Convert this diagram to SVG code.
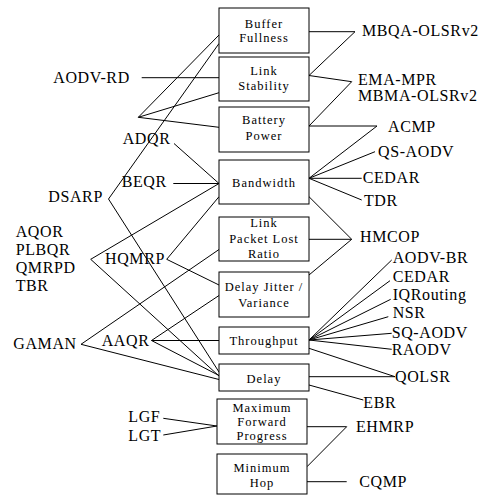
<svg xmlns="http://www.w3.org/2000/svg" width="480" height="495" viewBox="0 0 480 495">
<style>
.box{fill:#fff;stroke:#000;stroke-width:1}
.bl{font-family:"Liberation Serif","Times New Roman",serif;font-size:12.5px;letter-spacing:1px;text-anchor:middle;fill:#000}
.lb{font-family:"Liberation Serif","Times New Roman",serif;font-size:16px;letter-spacing:0.6px;fill:#000}
#connectors line,#connectors polyline{stroke:#000;stroke-width:1;fill:none}
</style>
<rect width="480" height="495" fill="#fff"/>
<g id="connectors">
<line x1="138.3" y1="117.3" x2="219" y2="35"/>
<line x1="138.3" y1="117.3" x2="219" y2="92.7"/>
<line x1="138.3" y1="117.3" x2="219" y2="127.3"/>
<line x1="141.7" y1="77.7" x2="219" y2="77.7"/>
<line x1="108.5" y1="199" x2="219" y2="43.5"/>
<line x1="108.5" y1="199" x2="219" y2="372"/>
<line x1="174" y1="143.5" x2="219" y2="183.5"/>
<line x1="173.3" y1="183.5" x2="219" y2="183.5"/>
<line x1="90.7" y1="259.3" x2="219" y2="183.5"/>
<line x1="90.7" y1="259.3" x2="219" y2="376"/>
<line x1="166.7" y1="259.3" x2="219" y2="196.7"/>
<line x1="166.7" y1="259.3" x2="219" y2="285"/>
<line x1="81" y1="344.3" x2="219" y2="249.5"/>
<line x1="81" y1="344.3" x2="219" y2="379.5"/>
<line x1="151.5" y1="340.5" x2="219" y2="295.5"/>
<line x1="151.5" y1="340.5" x2="219" y2="340.5"/>
<line x1="151.5" y1="340.5" x2="219" y2="375.5"/>
<line x1="163.3" y1="418.3" x2="217" y2="426"/>
<line x1="163.3" y1="435" x2="217" y2="426"/>
<polyline points="309,31.7 355,31.7 309,75.5 351.7,81.7 309,126 377,126 309,178.3"/>
<line x1="309" y1="178.3" x2="375" y2="151.7"/>
<line x1="309" y1="178.3" x2="361.7" y2="178.3"/>
<line x1="309" y1="178.3" x2="361.7" y2="200"/>
<polyline points="309,196.7 351.7,239.3 309,275"/>
<line x1="309" y1="239.3" x2="351.7" y2="239.3"/>
<line x1="309" y1="340" x2="391.7" y2="260"/>
<line x1="309" y1="340" x2="390" y2="280.7"/>
<line x1="309" y1="340" x2="390.7" y2="299.3"/>
<line x1="309" y1="340" x2="388.3" y2="316.7"/>
<line x1="309" y1="340" x2="391.7" y2="333.3"/>
<line x1="309" y1="340" x2="391.7" y2="349.3"/>
<polyline points="309,348.3 395,376.7 309,376.7"/>
<line x1="309" y1="385" x2="363.3" y2="400"/>
<polyline points="307,426.7 346.7,426.7 307,466.7"/>
<line x1="307" y1="481.7" x2="346.7" y2="481.7"/>
</g>
<g id="buffer-fullness"><rect class="box" x="219" y="8" width="90" height="45"/><text class="bl" x="264" y="28">Buffer</text><text class="bl" x="264" y="42">Fullness</text></g>
<g id="link-stability"><rect class="box" x="219" y="57" width="90" height="44"/><text class="bl" x="264" y="75">Link</text><text class="bl" x="264" y="90">Stability</text></g>
<g id="battery-power"><rect class="box" x="219" y="107" width="90" height="45"/><text class="bl" x="264" y="124">Battery</text><text class="bl" x="264" y="140">Power</text></g>
<g id="bandwidth"><rect class="box" x="219" y="160" width="90" height="44"/><text class="bl" x="264" y="186.5">Bandwidth</text></g>
<g id="link-packet-lost-ratio"><rect class="box" x="219" y="217" width="90" height="44"/><text class="bl" x="264" y="226.7">Link</text><text class="bl" x="264" y="242.7">Packet Lost</text><text class="bl" x="264" y="258.3">Ratio</text></g>
<g id="delay-jitter"><rect class="box" x="219" y="272" width="90" height="45"/><text class="bl" x="264" y="291">Delay Jitter /</text><text class="bl" x="264" y="306.7">Variance</text></g>
<g id="throughput"><rect class="box" x="219" y="327" width="90" height="27"/><text class="bl" x="264" y="345">Throughput</text></g>
<g id="delay"><rect class="box" x="219" y="364" width="90" height="27"/><text class="bl" x="264" y="383">Delay</text></g>
<g id="max-forward-progress"><rect class="box" x="217" y="399" width="90" height="45"/><text class="bl" x="262" y="411.7">Maximum</text><text class="bl" x="262" y="426">Forward</text><text class="bl" x="262" y="439.5">Progress</text></g>
<g id="minimum-hop"><rect class="box" x="217" y="454" width="90" height="40"/><text class="bl" x="262" y="471.7">Minimum</text><text class="bl" x="262" y="486.7">Hop</text></g>
<g id="left-labels">
<text class="lb" x="53.3" y="82.7">AODV-RD</text>
<text class="lb" x="122.7" y="144">ADQR</text>
<text class="lb" x="121.7" y="186.7">BEQR</text>
<text class="lb" x="48.3" y="201.7">DSARP</text>
<text class="lb" x="15.7" y="236.7">AQOR</text>
<text class="lb" x="15.7" y="255">PLBQR</text>
<text class="lb" x="15.7" y="273.3">QMRPD</text>
<text class="lb" x="15.7" y="291">TBR</text>
<text class="lb" x="105" y="264">HQMRP</text>
<text class="lb" x="13.3" y="349.3">GAMAN</text>
<text class="lb" x="101.7" y="345.7">AAQR</text>
<text class="lb" x="128.3" y="421.7">LGF</text>
<text class="lb" x="128.3" y="440.7">LGT</text>
</g>
<g id="right-labels">
<text class="lb" x="362" y="36">MBQA-OLSRv2</text>
<text class="lb" x="358" y="84.5">EMA-MPR</text>
<text class="lb" x="358" y="100.5">MBMA-OLSRv2</text>
<text class="lb" x="388" y="131.7">ACMP</text>
<text class="lb" x="378" y="156.7">QS-AODV</text>
<text class="lb" x="362.7" y="182.7">CEDAR</text>
<text class="lb" x="364" y="206">TDR</text>
<text class="lb" x="360" y="241.7">HMCOP</text>
<text class="lb" x="392.7" y="263.3">AODV-BR</text>
<text class="lb" x="392.7" y="281.7">CEDAR</text>
<text class="lb" x="392.7" y="300">IQRouting</text>
<text class="lb" x="392.7" y="318.3">NSR</text>
<text class="lb" x="391.7" y="338.3">SQ-AODV</text>
<text class="lb" x="391.7" y="355">RAODV</text>
<text class="lb" x="395" y="381.7">QOLSR</text>
<text class="lb" x="363.3" y="408.3">EBR</text>
<text class="lb" x="356" y="431.7">EHMRP</text>
<text class="lb" x="359.3" y="486.7">CQMP</text>
</g>
</svg>
